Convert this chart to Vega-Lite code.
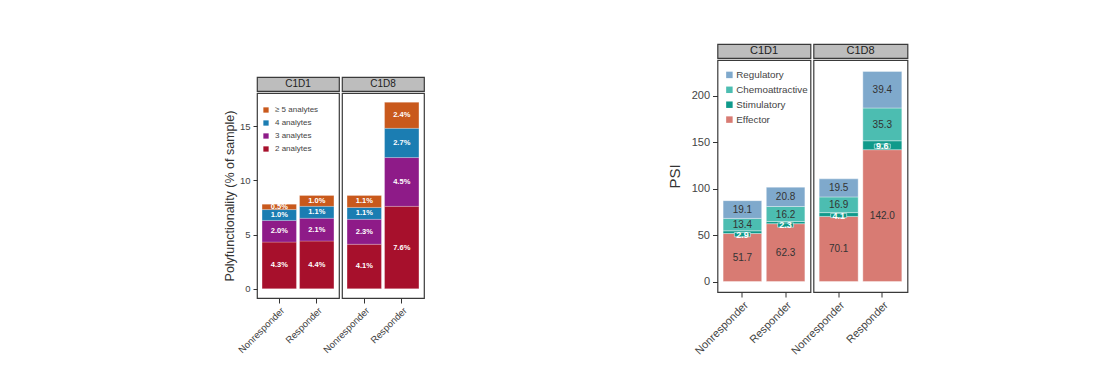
{
  "$schema": "https://vega.github.io/schema/vega-lite/v6.json",
  "padding": {"left": 222, "top": 43, "right": 5, "bottom": 5},
  "background": "white",
  "datasets": {
    "poly": [
      {"visit": "C1D1", "group": "Nonresponder", "analytes": "2 analytes", "pct": 4.3},
      {"visit": "C1D1", "group": "Nonresponder", "analytes": "3 analytes", "pct": 2.0},
      {"visit": "C1D1", "group": "Nonresponder", "analytes": "4 analytes", "pct": 1.0},
      {"visit": "C1D1", "group": "Nonresponder", "analytes": "≥ 5 analytes", "pct": 0.5},
      {"visit": "C1D1", "group": "Responder", "analytes": "2 analytes", "pct": 4.4},
      {"visit": "C1D1", "group": "Responder", "analytes": "3 analytes", "pct": 2.1},
      {"visit": "C1D1", "group": "Responder", "analytes": "4 analytes", "pct": 1.1},
      {"visit": "C1D1", "group": "Responder", "analytes": "≥ 5 analytes", "pct": 1.0},
      {"visit": "C1D8", "group": "Nonresponder", "analytes": "2 analytes", "pct": 4.1},
      {"visit": "C1D8", "group": "Nonresponder", "analytes": "3 analytes", "pct": 2.3},
      {"visit": "C1D8", "group": "Nonresponder", "analytes": "4 analytes", "pct": 1.1},
      {"visit": "C1D8", "group": "Nonresponder", "analytes": "≥ 5 analytes", "pct": 1.1},
      {"visit": "C1D8", "group": "Responder", "analytes": "2 analytes", "pct": 7.6},
      {"visit": "C1D8", "group": "Responder", "analytes": "3 analytes", "pct": 4.5},
      {"visit": "C1D8", "group": "Responder", "analytes": "4 analytes", "pct": 2.7},
      {"visit": "C1D8", "group": "Responder", "analytes": "≥ 5 analytes", "pct": 2.4}
    ],
    "psi": [
      {"visit": "C1D1", "group": "Nonresponder", "type": "Effector", "value": 51.7},
      {"visit": "C1D1", "group": "Nonresponder", "type": "Stimulatory", "value": 2.9},
      {"visit": "C1D1", "group": "Nonresponder", "type": "Chemoattractive", "value": 13.4},
      {"visit": "C1D1", "group": "Nonresponder", "type": "Regulatory", "value": 19.1},
      {"visit": "C1D1", "group": "Responder", "type": "Effector", "value": 62.3},
      {"visit": "C1D1", "group": "Responder", "type": "Stimulatory", "value": 2.3},
      {"visit": "C1D1", "group": "Responder", "type": "Chemoattractive", "value": 16.2},
      {"visit": "C1D1", "group": "Responder", "type": "Regulatory", "value": 20.8},
      {"visit": "C1D8", "group": "Nonresponder", "type": "Effector", "value": 70.1},
      {"visit": "C1D8", "group": "Nonresponder", "type": "Stimulatory", "value": 4.1},
      {"visit": "C1D8", "group": "Nonresponder", "type": "Chemoattractive", "value": 16.9},
      {"visit": "C1D8", "group": "Nonresponder", "type": "Regulatory", "value": 19.5},
      {"visit": "C1D8", "group": "Responder", "type": "Effector", "value": 142.0},
      {"visit": "C1D8", "group": "Responder", "type": "Stimulatory", "value": 9.6},
      {"visit": "C1D8", "group": "Responder", "type": "Chemoattractive", "value": 35.3},
      {"visit": "C1D8", "group": "Responder", "type": "Regulatory", "value": 39.4}
    ]
  },
  "config": {
    "font": "Liberation Sans",
    "view": {"stroke": "#3a3a3a", "strokeWidth": 1.2},
    "axis": {"grid": false, "domain": false, "tickColor": "#333", "labelColor": "#444", "titleColor": "#333", "titleFontWeight": "normal"},
    "legend": {"labelColor": "#444", "symbolType": "square", "symbolStrokeWidth": 0}
  },
  "resolve": {"scale": {"x": "independent", "y": "independent", "color": "independent"}, "legend": {"color": "independent"}},
  "spacing": 241.5,
  "hconcat": [
    {
      "spacing": 0,
      "resolve": {"scale": {"x": "independent", "y": "independent", "color": "independent"}, "legend": {"color": "independent"}},
      "vconcat": [
        {"data": {"values": []}, "mark": "point", "encoding": {}, "width": 10, "height": 32, "view": {"stroke": null}},
        {
          "spacing": 3,
          "bounds": "flush",
          "resolve": {"scale": {"x": "independent", "y": "independent", "color": "independent"}, "legend": {"color": "independent"}},
          "hconcat": [
            {
              "data": {"name": "poly"},
              "transform": [{"filter": "datum.visit === 'C1D1'"}, {"aggregate": [{"op": "count", "as": "n"}], "groupby": ["visit"]}],
              "width": 82, "height": 14,
              "view": {"fill": "#bdbdbd", "stroke": "#3a3a3a", "strokeWidth": 1.2},
              "mark": {"type": "text", "fontSize": 10, "color": "#222", "baseline": "middle"},
              "encoding": {"text": {"field": "visit"}}
            },
            {
              "data": {"name": "poly"},
              "transform": [{"filter": "datum.visit === 'C1D8'"}, {"aggregate": [{"op": "count", "as": "n"}], "groupby": ["visit"]}],
              "width": 82, "height": 14,
              "view": {"fill": "#bdbdbd", "stroke": "#3a3a3a", "strokeWidth": 1.2},
              "mark": {"type": "text", "fontSize": 10, "color": "#222", "baseline": "middle"},
              "encoding": {"text": {"field": "visit"}}
            }
          ]
        },
        {
          "spacing": 3,
          "bounds": "flush",
          "resolve": {"scale": {"x": "independent", "y": "independent", "color": "independent"}, "legend": {"color": "independent"}},
          "hconcat": [
            {
              "data": {"name": "poly"},
              "transform": [
                {"filter": "datum.visit === 'C1D1'"},
                {"calculate": "indexof(['2 analytes','3 analytes','4 analytes','≥ 5 analytes'], datum.analytes)", "as": "k"},
                {"stack": "pct", "groupby": ["group"], "sort": [{"field": "k", "order": "ascending"}], "as": ["y0", "y1"]},
                {"calculate": "(datum.y0 + datum.y1) / 2", "as": "ym"},
                {"calculate": "format(datum.pct, '.1f') + '%'", "as": "lab"}
              ],
              "width": 82, "height": 205,
              "encoding": {
                "x": {"field": "group", "type": "nominal", "scale": {"domain": ["Nonresponder", "Responder"], "paddingInner": 0.083, "paddingOuter": 0.135},
                  "axis": {"title": null, "labelAngle": -45, "labelAlign": "right", "labelBaseline": "top", "labelFontSize": 9.5, "tickSize": 5, "labelPadding": 2}}
              },
              "layer": [
                {
                  "mark": {"type": "bar", "stroke": "white", "strokeWidth": 0.4, "strokeOpacity": 0.6},
                  "encoding": {
                    "y": {"field": "y0", "type": "quantitative", "scale": {"domain": [-0.86, 18.06], "nice": false, "zero": false},
                      "axis": {"title": "Polyfunctionality (% of sample)", "values": [0, 5, 10, 15], "titleFontSize": 12.5, "labelFontSize": 9.5, "tickSize": 4, "labelPadding": 3, "titlePadding": 3}},
                    "y2": {"field": "y1"},
                    "color": {"field": "analytes", "type": "nominal",
                      "scale": {"domain": ["≥ 5 analytes", "4 analytes", "3 analytes", "2 analytes"], "range": ["#C9591C", "#1B7DB2", "#8E1B88", "#A7102C"]},
                      "legend": {"title": null, "orient": "none", "legendX": 5, "legendY": 13, "labelFontSize": 8, "symbolSize": 28, "rowPadding": 5, "labelOffset": 5, "padding": 0}}
                  }
                },
                {
                  "mark": {"type": "text", "color": "white", "fontSize": 7.5, "fontWeight": "bold", "baseline": "middle"},
                  "encoding": {"y": {"field": "ym", "type": "quantitative"}, "text": {"field": "lab"}}
                }
              ]
            },
            {
              "data": {"name": "poly"},
              "transform": [
                {"filter": "datum.visit === 'C1D8'"},
                {"calculate": "indexof(['2 analytes','3 analytes','4 analytes','≥ 5 analytes'], datum.analytes)", "as": "k"},
                {"stack": "pct", "groupby": ["group"], "sort": [{"field": "k", "order": "ascending"}], "as": ["y0", "y1"]},
                {"calculate": "(datum.y0 + datum.y1) / 2", "as": "ym"},
                {"calculate": "format(datum.pct, '.1f') + '%'", "as": "lab"}
              ],
              "width": 82, "height": 205,
              "encoding": {
                "x": {"field": "group", "type": "nominal", "scale": {"domain": ["Nonresponder", "Responder"], "paddingInner": 0.083, "paddingOuter": 0.135},
                  "axis": {"title": null, "labelAngle": -45, "labelAlign": "right", "labelBaseline": "top", "labelFontSize": 9.5, "tickSize": 5, "labelPadding": 2}}
              },
              "layer": [
                {
                  "mark": {"type": "bar", "stroke": "white", "strokeWidth": 0.4, "strokeOpacity": 0.6},
                  "encoding": {
                    "y": {"field": "y0", "type": "quantitative", "scale": {"domain": [-0.86, 18.06], "nice": false, "zero": false}, "axis": null},
                    "y2": {"field": "y1"},
                    "color": {"field": "analytes", "type": "nominal",
                      "scale": {"domain": ["≥ 5 analytes", "4 analytes", "3 analytes", "2 analytes"], "range": ["#C9591C", "#1B7DB2", "#8E1B88", "#A7102C"]},
                      "legend": null}
                  }
                },
                {
                  "mark": {"type": "text", "color": "white", "fontSize": 7.5, "fontWeight": "bold", "baseline": "middle"},
                  "encoding": {"y": {"field": "ym", "type": "quantitative"}, "text": {"field": "lab"}}
                }
              ]
            }
          ]
        }
      ]
    },
    {
      "spacing": 0,
      "resolve": {"scale": {"x": "independent", "y": "independent", "color": "independent"}, "legend": {"color": "independent"}},
      "vconcat": [
        {
          "spacing": 3,
          "bounds": "flush",
          "resolve": {"scale": {"x": "independent", "y": "independent", "color": "independent"}, "legend": {"color": "independent"}},
          "hconcat": [
            {
              "data": {"name": "psi"},
              "transform": [{"filter": "datum.visit === 'C1D1'"}, {"aggregate": [{"op": "count", "as": "n"}], "groupby": ["visit"]}],
              "width": 93, "height": 14,
              "view": {"fill": "#bdbdbd", "stroke": "#3a3a3a", "strokeWidth": 1.2},
              "mark": {"type": "text", "fontSize": 11, "color": "#222", "baseline": "middle"},
              "encoding": {"text": {"field": "visit"}}
            },
            {
              "data": {"name": "psi"},
              "transform": [{"filter": "datum.visit === 'C1D8'"}, {"aggregate": [{"op": "count", "as": "n"}], "groupby": ["visit"]}],
              "width": 94, "height": 14,
              "view": {"fill": "#bdbdbd", "stroke": "#3a3a3a", "strokeWidth": 1.2},
              "mark": {"type": "text", "fontSize": 11, "color": "#222", "baseline": "middle"},
              "encoding": {"text": {"field": "visit"}}
            }
          ]
        },
        {
          "spacing": 3,
          "bounds": "flush",
          "resolve": {"scale": {"x": "independent", "y": "independent", "color": "independent"}, "legend": {"color": "independent"}},
          "hconcat": [
            {
              "data": {"name": "psi"},
              "transform": [
                {"filter": "datum.visit === 'C1D1'"},
                {"calculate": "indexof(['Effector','Stimulatory','Chemoattractive','Regulatory'], datum.type)", "as": "k"},
                {"stack": "value", "groupby": ["group"], "sort": [{"field": "k", "order": "ascending"}], "as": ["y0", "y1"]},
                {"calculate": "(datum.y0 + datum.y1) / 2", "as": "ym"}
              ],
              "width": 93, "height": 232,
              "encoding": {
                "x": {"field": "group", "type": "nominal", "scale": {"domain": ["Nonresponder", "Responder"], "paddingInner": 0.107, "paddingOuter": 0.13},
                  "axis": {"title": null, "labelAngle": -45, "labelAlign": "right", "labelBaseline": "top", "labelFontSize": 11, "tickSize": 5, "labelPadding": 2}}
              },
              "layer": [
                {
                  "mark": {"type": "bar", "stroke": "white", "strokeWidth": 0.6, "strokeOpacity": 0.6},
                  "encoding": {
                    "y": {"field": "y0", "type": "quantitative", "scale": {"domain": [-11.3, 238.6], "nice": false, "zero": false},
                      "axis": {"title": "PSI", "values": [0, 50, 100, 150, 200], "titleFontSize": 15, "labelFontSize": 11, "tickSize": 5, "labelPadding": 3, "titlePadding": 9}},
                    "y2": {"field": "y1"},
                    "color": {"field": "type", "type": "nominal",
                      "scale": {"domain": ["Regulatory", "Chemoattractive", "Stimulatory", "Effector"], "range": ["#7FA9CC", "#4CBDB1", "#0F9A8B", "#D87B73"]},
                      "legend": {"title": null, "orient": "none", "legendX": 7, "legendY": 10, "labelFontSize": 9.8, "symbolSize": 42, "rowPadding": 3.9, "labelOffset": 2, "padding": 0}}
                  }
                },
                {
                  "transform": [{"filter": "datum.type !== 'Stimulatory'"}],
                  "mark": {"type": "text", "color": "#333", "fontSize": 10, "baseline": "middle", "dy": 0.5},
                  "encoding": {"y": {"field": "ym", "type": "quantitative"}, "text": {"field": "value", "format": ".1f"}}
                },
                {
                  "transform": [{"filter": "datum.type === 'Stimulatory'"}],
                  "mark": {"type": "point", "shape": "M-1,-0.27H1V0.27H-1Z", "size": 256, "filled": true, "color": "#0F9A8B", "opacity": 1, "stroke": "#cfeae6", "strokeWidth": 0.7, "yOffset": 2.5},
                  "encoding": {"y": {"field": "ym", "type": "quantitative"}}
                },
                {
                  "transform": [{"filter": "datum.type === 'Stimulatory'"}],
                  "mark": {"type": "text", "color": "white", "fontSize": 9, "fontWeight": "bold", "baseline": "middle", "dy": 2.5},
                  "encoding": {"y": {"field": "ym", "type": "quantitative"}, "text": {"field": "value", "format": ".1f"}}
                }
              ]
            },
            {
              "data": {"name": "psi"},
              "transform": [
                {"filter": "datum.visit === 'C1D8'"},
                {"calculate": "indexof(['Effector','Stimulatory','Chemoattractive','Regulatory'], datum.type)", "as": "k"},
                {"stack": "value", "groupby": ["group"], "sort": [{"field": "k", "order": "ascending"}], "as": ["y0", "y1"]},
                {"calculate": "(datum.y0 + datum.y1) / 2", "as": "ym"}
              ],
              "width": 94, "height": 232,
              "encoding": {
                "x": {"field": "group", "type": "nominal", "scale": {"domain": ["Nonresponder", "Responder"], "paddingInner": 0.107, "paddingOuter": 0.13},
                  "axis": {"title": null, "labelAngle": -45, "labelAlign": "right", "labelBaseline": "top", "labelFontSize": 11, "tickSize": 5, "labelPadding": 2}}
              },
              "layer": [
                {
                  "mark": {"type": "bar", "stroke": "white", "strokeWidth": 0.6, "strokeOpacity": 0.6},
                  "encoding": {
                    "y": {"field": "y0", "type": "quantitative", "scale": {"domain": [-11.3, 238.6], "nice": false, "zero": false}, "axis": null},
                    "y2": {"field": "y1"},
                    "color": {"field": "type", "type": "nominal",
                      "scale": {"domain": ["Regulatory", "Chemoattractive", "Stimulatory", "Effector"], "range": ["#7FA9CC", "#4CBDB1", "#0F9A8B", "#D87B73"]},
                      "legend": null}
                  }
                },
                {
                  "transform": [{"filter": "datum.type !== 'Stimulatory'"}],
                  "mark": {"type": "text", "color": "#333", "fontSize": 10, "baseline": "middle", "dy": 0.5},
                  "encoding": {"y": {"field": "ym", "type": "quantitative"}, "text": {"field": "value", "format": ".1f"}}
                },
                {
                  "transform": [{"filter": "datum.type === 'Stimulatory'"}],
                  "mark": {"type": "point", "shape": "M-1,-0.27H1V0.27H-1Z", "size": 256, "filled": true, "color": "#0F9A8B", "opacity": 1, "stroke": "#cfeae6", "strokeWidth": 0.7, "yOffset": 1},
                  "encoding": {"y": {"field": "ym", "type": "quantitative"}}
                },
                {
                  "transform": [{"filter": "datum.type === 'Stimulatory'"}],
                  "mark": {"type": "text", "color": "white", "fontSize": 9, "fontWeight": "bold", "baseline": "middle", "dy": 1},
                  "encoding": {"y": {"field": "ym", "type": "quantitative"}, "text": {"field": "value", "format": ".1f"}}
                }
              ]
            }
          ]
        }
      ]
    }
  ]
}
